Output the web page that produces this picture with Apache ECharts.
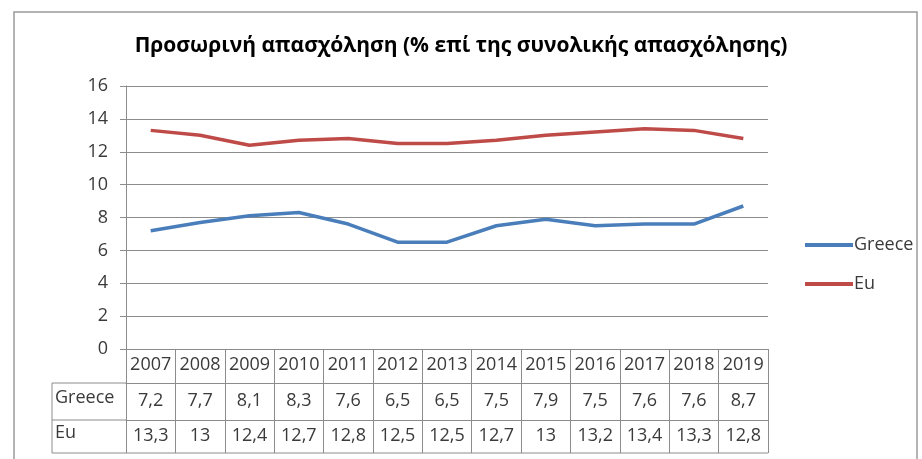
<!DOCTYPE html>
<html>
<head>
<meta charset="utf-8">
<script src="https://cdn.jsdelivr.net/npm/echarts@6/dist/echarts.min.js"></script>
<style>
  html, body { margin: 0; padding: 0; background: #fff; }
  #chart { width: 922px; height: 459px; }
</style>
</head>
<body>
<div id="chart"></div>
<script>
const years = ['2007', '2008', '2009', '2010', '2011', '2012', '2013', '2014', '2015', '2016', '2017', '2018', '2019'];
const greece = [7.2, 7.7, 8.1, 8.3, 7.6, 6.5, 6.5, 7.5, 7.9, 7.5, 7.6, 7.6, 8.7];
const eu = [13.3, 13, 12.4, 12.7, 12.8, 12.5, 12.5, 12.7, 13, 13.2, 13.4, 13.3, 12.8];
const titleText = 'Προσωρινή απασχόληση (% επί της συνολικής απασχόλησης)';

const font = 'Open Sans';
const gridCol = '#8c8c8c';
const comma = v => String(v).replace('.', ',');

// one category axis per table row, stacked under the plot
function tableAxis(data, offset, tickLen, margin) {
  return {
    type: 'category',
    position: 'bottom',
    offset: offset,
    data: data,
    boundaryGap: true,
    axisLine: { show: true, lineStyle: { color: gridCol, width: 1 } },
    axisTick: { show: true, length: tickLen, lineStyle: { color: gridCol } },
    axisLabel: { interval: 0, margin: margin, color: '#3a3a3a', fontFamily: font, fontSize: 18 },
    splitLine: { show: false }
  };
}

const chart = echarts.init(document.getElementById('chart'));
chart.setOption({
  animation: false,
  title: {
    text: titleText,
    left: 'center',
    top: 31,
    textStyle: { fontFamily: font, fontSize: 21, fontWeight: 'bold', color: '#000' }
  },
  legend: {
    orient: 'vertical',
    left: 800,
    top: 231,
    itemWidth: 48,
    itemHeight: 4,
    itemGap: 21,
    icon: 'rect',
    textStyle: { fontFamily: font, fontSize: 18, color: '#3a3a3a', padding: [0, 0, 0, -4] },
    data: ['Greece', 'Eu']
  },
  grid: { left: 126, right: 154, top: 86, bottom: 110, containLabel: false },
  xAxis: [
    tableAxis(years, 0, 34, 7),
    tableAxis(greece.map(comma), 34, 37, 9),
    tableAxis(eu.map(comma), 71, 33, 7)
  ],
  yAxis: {
    type: 'value',
    min: 0,
    max: 16,
    interval: 2,
    axisLine: { show: true, lineStyle: { color: gridCol } },
    axisTick: { show: true, inside: false, length: 6, lineStyle: { color: gridCol } },
    axisLabel: { margin: 18, color: '#3a3a3a', fontFamily: font, fontSize: 18 },
    splitLine: { show: true, lineStyle: { color: gridCol, width: 1 } }
  },
  series: [
    {
      name: 'Greece', type: 'line', data: greece, symbol: 'none',
      lineStyle: { color: '#4a7ebb', width: 3.5 }, itemStyle: { color: '#4a7ebb' }
    },
    {
      name: 'Eu', type: 'line', data: eu, symbol: 'none',
      lineStyle: { color: '#be4b48', width: 3.5 }, itemStyle: { color: '#be4b48' }
    }
  ],
  graphic: [
    // outer frame
    { type: 'rect', shape: { x: 14, y: 12, width: 903, height: 460 }, style: { fill: 'none', stroke: '#9a9a9a', lineWidth: 1.5 }, silent: true },
    // left header column of the data table
    { type: 'line', shape: { x1: 52, y1: 383, x2: 126, y2: 383 }, style: { stroke: gridCol } },
    { type: 'line', shape: { x1: 52, y1: 420, x2: 126, y2: 420 }, style: { stroke: gridCol } },
    { type: 'line', shape: { x1: 52, y1: 453, x2: 768, y2: 453 }, style: { stroke: gridCol } },
    { type: 'line', shape: { x1: 52, y1: 383, x2: 52, y2: 453 }, style: { stroke: gridCol } },
    { type: 'text', left: 55, top: 389, style: { text: 'Greece', font: '18px "Open Sans"', fill: '#3a3a3a' } },
    { type: 'text', left: 55, top: 424, style: { text: 'Eu', font: '18px "Open Sans"', fill: '#3a3a3a' } }
  ]
});
</script>
</body>
</html>
